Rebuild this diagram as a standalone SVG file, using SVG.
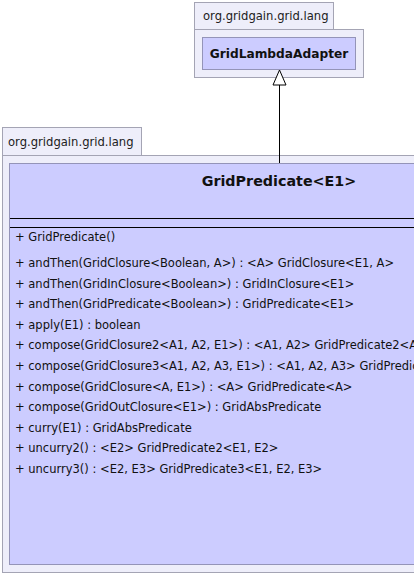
<svg xmlns="http://www.w3.org/2000/svg" width="414" height="575" viewBox="0 0 414 575">
<style>
.pkg{fill:#eeeefa;stroke:#a4a4b4;stroke-width:1}
.cls{fill:#ccccff;stroke:#9494b8;stroke-width:1}
.pt{font-family:"DejaVu Sans",sans-serif;font-size:11.6px;fill:#222}
.ct{font-family:"DejaVu Sans",sans-serif;font-size:12.2px;font-weight:bold;fill:#111;text-anchor:middle}
.tt{font-family:"DejaVu Sans",sans-serif;font-size:14.3px;font-weight:bold;fill:#111;text-anchor:middle}
.m{font-family:"DejaVu Sans",sans-serif;font-size:11.5px;fill:#111}
.ln{stroke:#000;stroke-width:1;fill:none}
</style>
<rect width="414" height="575" fill="#ffffff"/>
<g id="pkg1">
<rect class="pkg" x="194.5" y="2.5" width="139" height="27"/>
<rect class="pkg" x="194.5" y="29.5" width="169" height="48"/>
<text class="pt" x="203" y="20">org.gridgain.grid.lang</text>
</g>
<g id="GridLambdaAdapter">
<rect class="cls" x="202.5" y="37.5" width="153" height="32"/>
<text class="ct" x="279" y="58">GridLambdaAdapter</text>
</g>
<g id="pkg2">
<rect class="pkg" x="2.5" y="127.5" width="139" height="28"/>
<rect class="pkg" x="2.5" y="155.5" width="420" height="417"/>
<text class="pt" x="8" y="146">org.gridgain.grid.lang</text>
</g>
<g id="GridPredicate">
<rect class="cls" x="9.5" y="163.5" width="420" height="401"/>
<text class="tt" x="279" y="186">GridPredicate&lt;E1&gt;</text>
<line class="ln" x1="10" y1="218.5" x2="414" y2="218.5"/>
<line class="ln" x1="10" y1="227.5" x2="414" y2="227.5"/>
<text class="m" x="15" y="241">+ GridPredicate()</text>
<text class="m" x="15" y="267">+ andThen(GridClosure&lt;Boolean, A&gt;) : &lt;A&gt; GridClosure&lt;E1, A&gt;</text>
<text class="m" x="15" y="287.6">+ andThen(GridInClosure&lt;Boolean&gt;) : GridInClosure&lt;E1&gt;</text>
<text class="m" x="15" y="308.2">+ andThen(GridPredicate&lt;Boolean&gt;) : GridPredicate&lt;E1&gt;</text>
<text class="m" x="15" y="328.8">+ apply(E1) : boolean</text>
<text class="m" x="15" y="349.4">+ compose(GridClosure2&lt;A1, A2, E1&gt;) : &lt;A1, A2&gt; GridPredicate2&lt;A1, A2&gt;</text>
<text class="m" x="15" y="370">+ compose(GridClosure3&lt;A1, A2, A3, E1&gt;) : &lt;A1, A2, A3&gt; GridPredicate3&lt;A1, A2, A3&gt;</text>
<text class="m" x="15" y="390.6">+ compose(GridClosure&lt;A, E1&gt;) : &lt;A&gt; GridPredicate&lt;A&gt;</text>
<text class="m" x="15" y="411.2">+ compose(GridOutClosure&lt;E1&gt;) : GridAbsPredicate</text>
<text class="m" x="15" y="431.8">+ curry(E1) : GridAbsPredicate</text>
<text class="m" x="15" y="452.4">+ uncurry2() : &lt;E2&gt; GridPredicate2&lt;E1, E2&gt;</text>
<text class="m" x="15" y="473">+ uncurry3() : &lt;E2, E3&gt; GridPredicate3&lt;E1, E2, E3&gt;</text>
</g>
<g id="connectors">
<line class="ln" x1="279.5" y1="85" x2="279.5" y2="163"/>
<polygon points="279.5,70 273,85 286,85" fill="#ffffff" stroke="#000" stroke-width="1"/>
</g>
</svg>
